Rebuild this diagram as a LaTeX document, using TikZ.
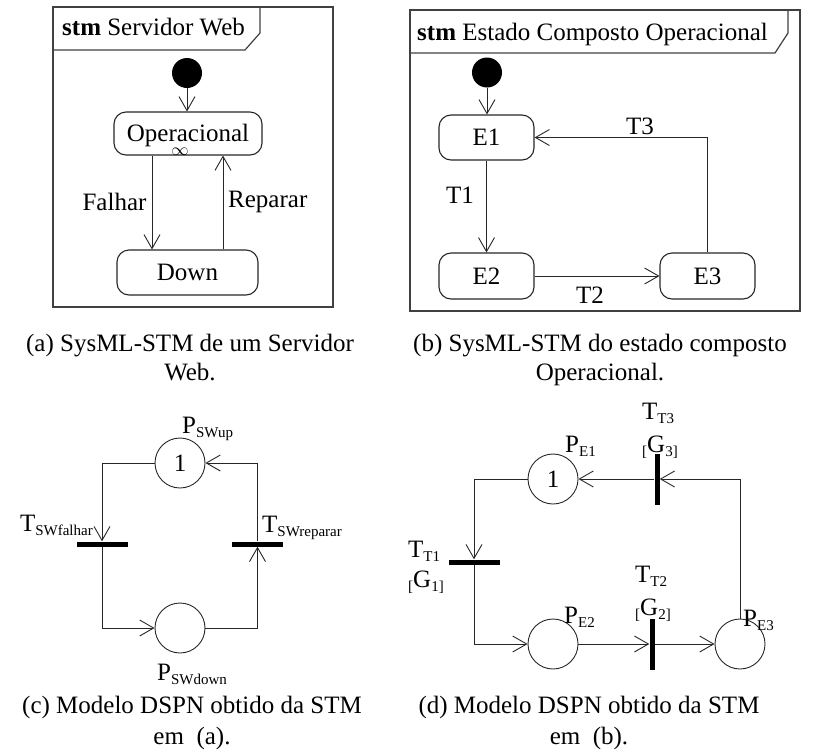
\documentclass[tikz,border=0pt]{standalone}
\usepackage{fontspec}
\setmainfont{Liberation Serif}
\usetikzlibrary{arrows.meta}
% lowered small text used for subscripts and guard brackets
\newcommand\lo[1]{\raisebox{-4pt}{\fontsize{15}{15}\selectfont #1}}

\begin{document}
\begin{tikzpicture}[x=1pt,y=-1pt,
  txt/.style={font=\fontsize{25}{30}\selectfont, inner sep=0pt},
  sysframe/.style={draw=black!75, line width=1.2pt},
  stbox/.style={draw=black!85, line width=1.1pt, rounded corners=12pt, txt},
  initdot/.style={circle, fill=black, minimum size=30pt, inner sep=0pt},
  place/.style={circle, draw=black!85, line width=0.9pt, minimum size=50pt, inner sep=0pt, txt},
  transH/.style={fill=black, minimum width=51pt, minimum height=5pt, inner sep=0pt},
  transV/.style={fill=black, minimum width=5pt, minimum height=51pt, inner sep=0pt},
  arr/.style={draw=black!85, line width=0.9pt, -{Straight Barb[length=14pt,width=16pt]}},
  lbl/.style={txt, anchor=base west},
  captxt/.style={txt, anchor=base}
]
\useasboundingbox (0,0) rectangle (819,753);

% ---------- (a) stm Servidor Web ----------
\draw[sysframe] (53,7) rectangle (333,307);
\draw[sysframe] (53,50) -- (245,50) -- (260,33) -- (260,7);
\node[lbl] (ta) at (62,35) {\textbf{stm} Servidor Web};

\node[initdot] (a0) at (187,73) {};
\node[stbox, minimum width=148pt, minimum height=43pt, text height=16pt, text depth=0pt] (op) at (188,133.5) {Operacional};
\node[inner sep=0pt, font=\fontsize{17}{17}\selectfont] (inf) at (180,151.5) {$\infty$};
\node[stbox, minimum width=141pt, minimum height=45pt] (down) at (187.5,272.5) {Down};

\coordinate (xf) at (152,0);
\coordinate (xr) at (223,0);
\draw[arr] (a0.south) -- (a0.south |- op.north);
\draw[arr] (op.south -| xf) -- (down.north -| xf);
\draw[arr] (down.north -| xr) -- (op.south -| xr);
\node[txt] (lf) at (114.5,202) {Falhar};
\node[txt, anchor=west] (lr) at (228,202) {Reparar};

% ---------- (b) stm Estado Composto Operacional ----------
\draw[sysframe] (410,10) rectangle (800,311);
\draw[sysframe] (410,53) -- (775,53) -- (788,33) -- (788,10);
\node[lbl] (tb) at (417,40) {\textbf{stm} Estado Composto Operacional};

\node[initdot] (b0) at (487,72.5) {};
\node[stbox, minimum width=95pt, minimum height=45pt] (e1) at (486.5,137.5) {E1};
\node[stbox, minimum width=95pt, minimum height=46pt] (e2) at (486.5,276) {E2};
\node[stbox, minimum width=95pt, minimum height=46pt] (e3) at (707.5,276) {E3};

\draw[arr] (b0.south) -- (b0.south |- e1.north);
\draw[arr] (e1.south) -- (e2.north);
\draw[arr] (e2.east) -- (e3.west);
\draw[arr] (e3.north) |- (e1.east);
\node[txt] (l1) at (460,195) {T1};
\node[txt] (l2) at (590,295) {T2};
\node[txt] (l3) at (640,126) {T3};

% captions of the top row
\node[captxt] (ca1) at (190,351) {(a) SysML-STM de um Servidor};
\node[captxt] (ca2) at (190,380) {Web.};
\node[captxt] (cb1) at (600,351) {(b) SysML-STM do estado composto};
\node[captxt] (cb2) at (600,380) {Operacional.};

% ---------- (c) DSPN of the web server ----------
\node[place] (pup) at (180,463) {1};
\node[place] (pdown) at (180,628) {};
\node[transH] (tfal) at (102,544) {};
\node[transH] (trep) at (257.5,544) {};

\draw[arr] (pup.west) -| (tfal.north);
\draw[arr] (tfal.south) |- (pdown.west);
\draw[arr] (pdown.east) -| (trep.south);
\draw[arr] (trep.north) |- (pup.east);

\node[lbl] (lpup) at (182,433) {P\lo{SWup}};
\node[lbl] (lpdown) at (157,680) {P\lo{SWdown}};
\node[txt, anchor=base east] (ltfal) at (93,531) {T\lo{SWfalhar}};
\node[lbl] (ltrep) at (262,532) {T\lo{SWreparar}};

% ---------- (d) DSPN of the composite state ----------
\node[place] (pe1) at (553,479) {1};
\node[place] (pe2) at (553,644) {};
\node[place] (pe3) at (740,644) {};
\node[transH] (tt1) at (474,562) {};
\node[transV] (tt2) at (652,644) {};
\node[transV] (tt3) at (657,479) {};

\draw[arr] (pe1.west) -| (tt1.north);
\draw[arr] (tt1.south) |- (pe2.west);
\draw[arr] (pe2.east) -- (tt2.west);
\draw[arr] (tt2.east) -- (pe3.west);
\draw[arr] (pe3.north) |- (tt3.east);
\draw[arr] (tt3.west) -- (pe1.east);

\node[lbl] (lpe1) at (565,452) {P\lo{E1}};
\node[lbl] (lpe2) at (564,623) {P\lo{E2}};
\node[lbl] (lpe3) at (743,626) {P\lo{E3}};
\node[lbl] (ltt1) at (408,557) {T\lo{T1}};
\node[lbl] (lg1) at (408,587) {\lo{[}G\lo{1]}};
\node[lbl] (ltt2) at (635,582) {T\lo{T2}};
\node[lbl] (lg2) at (635,615) {\lo{[}G\lo{2]}};
\node[lbl] (ltt3) at (642,419) {T\lo{T3}};
\node[lbl] (lg3) at (642,452) {\lo{[}G\lo{3]}};

% captions of the bottom row
\node[captxt] (cc1) at (192,713) {(c) Modelo DSPN obtido da STM};
\node[captxt] (cc2) at (192,744) {em~ (a).};
\node[captxt] (cd1) at (589,713) {(d) Modelo DSPN obtido da STM};
\node[captxt] (cd2) at (589,744) {em~ (b).};
\end{tikzpicture}
\end{document}
